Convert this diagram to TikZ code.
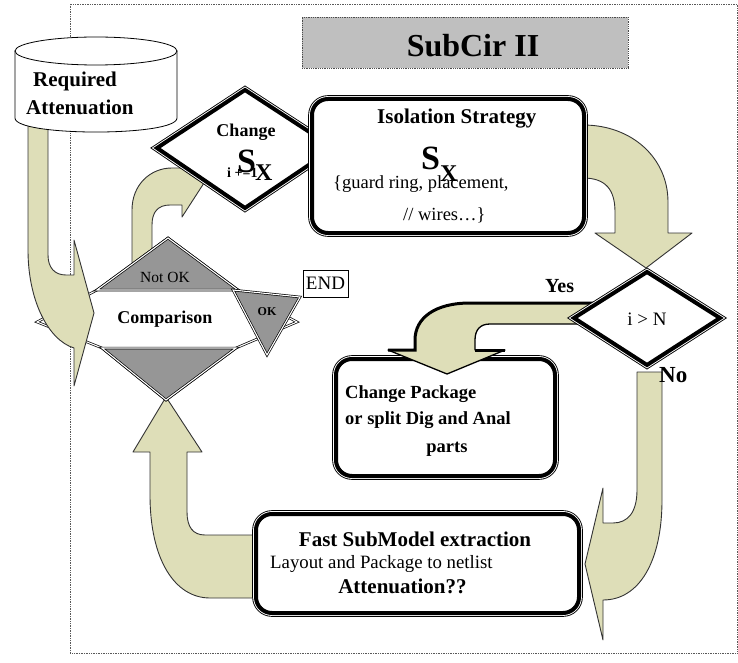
\documentclass[tikz,border=0pt]{standalone}
\usepackage{fontspec}
\setmainfont{Liberation Serif}
\definecolor{khaki}{RGB}{222,222,184}
\definecolor{midgray}{RGB}{150,150,150}
\newcommand{\setfs}[1]{\fontsize{#1}{#1}\selectfont}
\tikzset{
  bigarrow/.style={fill=khaki, draw=black!80, line width=0.9pt, line join=round},
  thickthin/.style={draw=black, line width=4pt, fill=white,
     preaction={draw=black, line width=7.6pt},
     preaction={draw=white, line width=5.8pt}},
  roundbox/.style={thickthin, rounded corners=16pt, inner sep=0pt, outer sep=0pt},
  dblline/.style={draw=black, line width=0.7pt, double=white, double distance=1.1pt},
  graytri/.style={dblline, fill=midgray},
  lbl/.style={inner sep=0pt},
}
\begin{document}
\begin{tikzpicture}[x=1pt,y=-1pt]
\useasboundingbox (0,0) rectangle (738,663);
% ------ frame and title ------
\draw[densely dotted, black!65, line width=0.7pt] (70,4) rectangle (737,653);
\node[draw=black!70, densely dotted, line width=0.8pt, fill=gray!50,
      minimum width=326pt, minimum height=51pt, inner sep=0pt] (titlebox) at (465,42.5) {};
\node[lbl, anchor=base, font=\setfs{32}\bfseries] (title) at (473,57) {SubCir II};

% ------ block arrows lying under the boxes ------
\draw[bigarrow] (132,270) -- (132,210) .. controls (132,185) and (150,168) .. (172,168)
   -- (182,168) -- (182,150) -- (204,183) -- (182,217) -- (182,205) -- (170,205)
   .. controls (158,205) and (152,212) .. (152,225) -- (152,270) -- cycle; % Not OK
\draw[bigarrow] (583,125) .. controls (632,125) and (668,158) .. (668,202) -- (668,233)
   -- (692,233) -- (646,268) -- (595,233) -- (615,233) -- (615,212)
   .. controls (615,190) and (606,178) .. (583,178) -- cycle; % to i > N
\draw[bigarrow] (637,372) -- (637,490) .. controls (637,512) and (628,523) .. (613,523)
   -- (603,523) -- (603,488) -- (585,564) -- (603,640) -- (603,600)
   .. controls (640,600) and (662,560) .. (662,500) -- (662,372) -- cycle; % No
\draw[bigarrow] (258,535) -- (205,535) .. controls (193,535) and (187,527) .. (187,512)
   -- (187,452) -- (202,452) -- (166,397) -- (133,452) -- (150,452) -- (150,495)
   .. controls (150,560) and (175,598) .. (210,598) -- (258,598) -- cycle; % back up

% ------ comparison ------
\coordinate (cL) at (37,322);
\coordinate (cT) at (168,238);
\coordinate (cR) at (297,322);
\coordinate (cB) at (166,400);
\draw[dblline, fill=white] (cL) -- (97,290) -- (cT) -- (238,290) -- (cR) -- (236,348)
   -- (cB) -- (102,348) -- cycle;
\draw[graytri] (97,290) -- (cT) -- (238,290) -- cycle;
\draw[graytri] (102,348) -- (236,348) -- (cB) -- cycle;
\draw[graytri] (233,290) -- (300,297) -- (267,355) -- cycle;
\node[draw, fill=white, line width=0.8pt, minimum width=45pt, minimum height=27pt,
      inner sep=0pt, font=\setfs{19}] (endbox) at (325.5,283.5) {END};
\node[lbl, anchor=base, font=\setfs{15.5}] (notok) at (165,282) {Not OK};
\node[lbl, anchor=base, font=\setfs{18}\bfseries] (comp) at (165,323) {Comparison};
\node[lbl, anchor=base, font=\setfs{12}\bfseries] (ok) at (267,315) {OK};

% ------ required attenuation ------
\draw[bigarrow] (28,125) -- (28,250) .. controls (28,300) and (48,340) .. (74,348)
   -- (74,386) -- (94,313) -- (74,240) -- (74,275) -- (66,275)
   .. controls (55,275) and (48,268) .. (48,255) -- (48,125) -- cycle;
\draw[fill=white, line width=0.8pt] (15,51) -- (15,118) .. controls (15,136.7) and (177,136.7) .. (177,118)
   -- (177,51) -- cycle;
\draw[fill=white, line width=0.8pt] (96,51) ellipse [x radius=81, y radius=14];
\node[lbl, anchor=base west, font=\setfs{21}\bfseries] (req1) at (33,87) {Required};
\node[lbl, anchor=base west, font=\setfs{21}\bfseries] (req2) at (26,115) {Attenuation};

% ------ change S_X ------
\draw[thickthin] (157,148) -- (245,90) -- (334,148) -- (245,208) -- cycle;
\node[lbl, anchor=base, font=\setfs{18}\bfseries] (chg) at (246,137) {Change};
\node[lbl, anchor=base west, font=\setfs{14}\bfseries] (incr) at (227,178) {i +=1};
\node[lbl, anchor=base west, font=\setfs{34}\bfseries] (chgS) at (237,172) {S};
\node[lbl, anchor=base west, font=\setfs{24}\bfseries] (chgX) at (255,180) {X};

% ------ isolation strategy ------
\node[roundbox, minimum width=272pt, minimum height=134pt] (iso) at (448,166) {};
\node[lbl, anchor=base west, font=\setfs{21}\bfseries] (iso1) at (377,124) {Isolation Strategy};
\node[lbl, anchor=base west, font=\setfs{34}\bfseries] (isoS) at (421,170) {S};
\node[lbl, anchor=base west, font=\setfs{24}\bfseries] (isoX) at (440,182) {X};
\node[lbl, anchor=base west, font=\setfs{18.5}] (iso2) at (333,188) {\{guard ring, placement,};
\node[lbl, anchor=base west, font=\setfs{18.5}] (iso3) at (403,220) {// wires…\}};

% ------ change package, yes branch, i > N ------
\node[roundbox, minimum width=219pt, minimum height=117pt] (pkg) at (445.5,417.5) {};
\node[lbl, anchor=base west, font=\setfs{18.5}\bfseries] (pkg1) at (345,398) {Change Package};
\node[lbl, anchor=base west, font=\setfs{18.5}\bfseries] (pkg2) at (345,424) {or split Dig and Anal};
\node[lbl, anchor=base, font=\setfs{18.5}\bfseries] (pkg3) at (447,452) {parts};
\draw[bigarrow, draw=black, line width=1.3pt] (600,303) -- (470,303) .. controls (435,303) and (415,318) .. (415,340)
   -- (415,350) -- (388,350) -- (447,374) -- (505,350) -- (475,350) -- (475,340)
   .. controls (475,330) and (480,324) .. (490,324) -- (586,324) -- cycle;
\draw[line width=3pt] (600,303) -- (470,303) .. controls (435,303) and (415,318) .. (415,340)
   -- (415,350) -- (388,350);
\draw[line width=3pt] (475,350) -- (505,350);
\draw[thickthin] (574,318) -- (647,272) -- (720,318) -- (647,365) -- cycle;
\node[lbl, anchor=base, font=\setfs{19}] (test) at (647,325) {i > N};
\node[lbl, anchor=base west, font=\setfs{20}\bfseries] (yes) at (545,292) {Yes};
\node[lbl, anchor=base west, font=\setfs{23}\bfseries] (no) at (659,382) {No};

% ------ fast submodel extraction ------
\node[roundbox, minimum width=323pt, minimum height=99pt] (fast) at (417.5,563.5) {};
\node[lbl, anchor=base, font=\setfs{21}\bfseries] (fast1) at (415,546) {Fast SubModel extraction};
\node[lbl, anchor=base west, font=\setfs{18.8}] (fast2) at (270,568) {Layout and Package to netlist};
\node[lbl, anchor=base, font=\setfs{21}\bfseries] (fast3) at (402.5,593) {Attenuation??};
\end{tikzpicture}
\end{document}
